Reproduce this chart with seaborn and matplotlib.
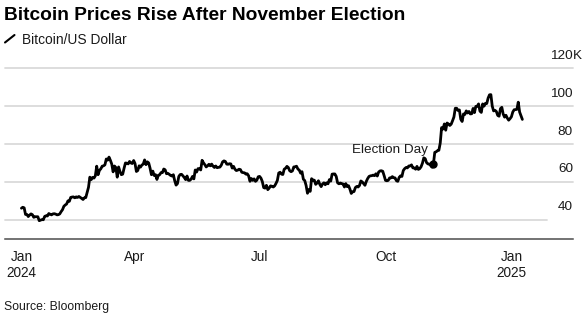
import matplotlib
matplotlib.use("Agg")
import matplotlib.pyplot as plt
import matplotlib.transforms as mtransforms
from matplotlib.lines import Line2D
import pandas as pd
import seaborn as sns

# Daily BTC/USD closes, thousands of US dollars, grouped by month
jan_2024 = [46.1, 46.6, 46.3, 42.8, 42.8, 41.7, 42.5, 43.1, 42.7, 41.3, 41.6, 41.6,
            41.6, 39.5, 39.8, 40.1, 40.0, 41.8, 42.1, 42.0, 43.3, 42.9, 42.6]
feb_2024 = [43.1, 43.2, 43.0, 42.6, 42.7, 43.1, 44.3, 45.3, 47.1, 47.8, 48.3, 50.0,
            49.7, 51.8, 52.0, 52.1, 51.6, 52.1, 51.8, 52.3, 51.8, 51.3, 50.7, 51.6,
            51.7, 54.5, 57.1, 62.5, 61.2]
mar_2024 = [62.4, 62.0, 63.2, 68.3, 63.8, 66.1, 66.9, 68.3, 68.5, 69.0, 72.1, 71.5,
            73.1, 71.4, 69.4, 65.3, 68.4, 67.6, 62.5, 67.9, 65.5, 63.8, 64.1, 67.2,
            70.0, 69.9, 69.5, 70.8, 70.0, 69.7, 71.3]
apr_2024 = [69.7, 65.5, 66.0, 68.5, 67.8, 68.9, 69.4, 71.6, 69.1, 70.6, 70.0, 67.2,
            63.8, 65.7, 63.4, 63.8, 61.3, 63.5, 63.8, 64.9, 64.9, 66.8, 66.4, 64.3,
            64.5, 64.0, 63.4, 63.1, 63.8, 60.6]
may_2024 = [58.3, 59.1, 62.9, 63.9, 64.0, 63.2, 62.3, 61.2, 63.1, 60.8, 60.8, 61.5,
            62.9, 61.6, 66.3, 65.2, 67.0, 67.0, 66.3, 71.4, 70.1, 69.1, 67.9, 68.5,
            69.3, 68.5, 69.4, 68.3, 67.6, 68.4, 67.5]
jun_2024 = [67.7, 67.8, 68.8, 70.6, 71.1, 70.8, 69.4, 69.3, 69.6, 69.5, 67.3, 68.2,
            66.7, 66.0, 66.2, 66.7, 66.5, 65.1, 64.9, 64.8, 64.1, 64.3, 63.2, 60.3,
            61.8, 60.8, 61.6, 60.3, 60.9, 62.7]
jul_2024 = [62.9, 62.0, 60.2, 57.0, 56.7, 58.2, 55.9, 56.7, 57.9, 57.7, 57.3, 57.9,
            59.2, 60.8, 64.7, 65.1, 64.1, 63.9, 66.7, 67.2, 68.2, 67.6, 65.9, 65.4,
            65.8, 67.9, 68.0, 68.3, 66.8, 66.2, 64.6]
aug_2024 = [65.4, 61.4, 60.7, 58.1, 54.0, 56.0, 55.0, 61.7, 60.9, 60.9, 58.7, 59.4,
            60.6, 58.7, 57.5, 58.9, 59.5, 58.5, 59.5, 59.0, 61.2, 60.4, 64.1, 64.2,
            64.2, 62.9, 59.5, 59.0, 59.4, 59.1, 58.9]
sep_2024 = [57.3, 59.1, 57.5, 58.0, 56.2, 53.9, 54.8, 54.9, 57.0, 57.6, 57.3, 58.1,
            60.5, 60.0, 59.1, 58.2, 60.3, 61.8, 62.9, 63.2, 63.3, 63.6, 63.3, 64.3,
            63.1, 65.2, 65.8, 65.9, 65.6, 63.3]
oct_2024 = [60.8, 60.6, 60.8, 62.1, 62.1, 62.8, 62.2, 62.1, 60.6, 60.3, 62.4, 63.2,
            62.9, 66.0, 67.0, 67.6, 67.4, 68.4, 68.4, 69.0, 67.4, 67.4, 66.7, 68.2,
            66.6, 67.0, 68.0, 69.9, 72.7, 72.3, 70.2]
nov_2024 = [69.5, 69.4, 68.7, 67.8, 69.4, 75.6, 75.9, 76.5, 76.7, 80.5, 88.7, 87.9,
            90.6, 87.3, 91.1, 90.6, 89.8, 90.5, 92.3, 94.3, 98.9, 98.9, 97.7, 98.0,
            93.1, 91.9, 95.9, 95.6, 97.5, 96.4]
dec_2024 = [97.2, 95.9, 96.0, 98.8, 96.6, 99.9, 99.9, 101.2, 97.4, 96.7, 101.2, 100.0,
            101.5, 101.4, 104.3, 106.0, 106.1, 100.0, 97.5, 97.8, 97.2, 95.1, 94.7, 98.7,
            99.4, 95.8, 94.2, 95.2, 93.7, 92.6, 93.4]
jan_2025 = [94.4, 96.9, 98.1, 98.2, 98.3, 102.1, 96.9, 95.0, 93.0]

first_date = "2024-01-09"
election_date = "2024-11-05"

y_ticks = [40, 60, 80, 100, 120]
y_tick_labels = ["40", "60", "80", "100", "120"]
y_unit = "K"
x_tick_dates = ["2024-01-09", "2024-04-01", "2024-07-01", "2024-10-01", "2025-01-01"]
x_tick_labels = ["Jan\n2024", "Apr", "Jul", "Oct", "Jan\n2025"]

title = "Bitcoin Prices Rise After November Election"
series_name = "Bitcoin/US Dollar"
source = "Source: Bloomberg"

prices = (jan_2024 + feb_2024 + mar_2024 + apr_2024 + may_2024 + jun_2024 + jul_2024
          + aug_2024 + sep_2024 + oct_2024 + nov_2024 + dec_2024 + jan_2025)
df = pd.DataFrame({
    "date": pd.date_range(first_date, periods=len(prices), freq="D"),
    "price": prices,
})

sns.set_style("white")
plt.rcParams["font.family"] = ["Liberation Sans", "DejaVu Sans"]

W, H = 588, 323
fig = plt.figure(figsize=(W / 100, H / 100), dpi=100)
ax_l, ax_r, ax_t, ax_b = 5, 573, 68.3, 238.7
ax = fig.add_axes([ax_l / W, 1 - ax_b / H, (ax_r - ax_l) / W, (ax_b - ax_t) / H])

sns.lineplot(data=df, x="date", y="price", ax=ax, color="black",
             linewidth=2.0, zorder=3)

ax.set_xlim(pd.Timestamp("2023-12-28"), pd.Timestamp("2025-02-15"))
ax.set_ylim(30, 120)

# horizontal guides
for v in y_ticks:
    ax.axhline(v, xmin=0, xmax=(0.954 if v == 40 else 1.0), color="#dadada",
               lw=1.3, zorder=1, clip_on=False)

# value labels sit just above their guide lines at the right edge;
# the unit suffix on the top label hangs past the column of numbers
label_tr = mtransforms.offset_copy(ax.get_yaxis_transform(), fig=fig,
                                   x=0, y=12.5, units="dots")
for v, lab in zip(y_ticks, y_tick_labels):
    ax.text(1.0, v, lab, transform=label_tr, ha="right", va="center",
            fontsize=9.7, color="#1a1a1a")
ax.text(1.0, y_ticks[-1], y_unit, transform=label_tr, ha="left", va="center",
        fontsize=9.7, color="#1a1a1a")
ax.set_yticks([])
ax.set_ylabel("")
ax.set_xlabel("")

for side in ["top", "left", "right"]:
    ax.spines[side].set_visible(False)
ax.spines["bottom"].set_color("#4d4d4d")
ax.spines["bottom"].set_linewidth(1.1)

ax.set_xticks(pd.to_datetime(x_tick_dates))
ax.set_xticklabels(x_tick_labels)
ax.tick_params(axis="x", direction="out", length=4, width=1, color="#4d4d4d",
               pad=4, labelsize=9.8, labelcolor="#1a1a1a")

# election day marker
e_date = pd.Timestamp(election_date)
e_price = df.loc[df["date"] == e_date, "price"].iloc[0]
ax.plot([e_date], [e_price], marker="o", ms=5, color="black", zorder=4)
ax.annotate("Election Day", xy=(e_date, e_price), xytext=(-4.3, 10),
            textcoords="offset points", ha="right", va="center",
            fontsize=9.7, color="#1a1a1a")

# headers and footer
fig.text(4 / W, 1 - 19.5 / H, title, fontsize=13.8, fontweight="bold",
         va="baseline", ha="left", color="black")
fig.lines.append(Line2D([5 / W, 14.5 / W], [1 - 42.5 / H, 1 - 35 / H],
                        transform=fig.transFigure, color="black", lw=1.5))
fig.text(22.5 / W, 1 - 44 / H, series_name, fontsize=9.9, va="baseline",
         ha="left", color="#1a1a1a")
fig.text(4 / W, 1 - 310 / H, source, fontsize=8.8, va="baseline",
         ha="left", color="#1a1a1a")

fig.savefig("out.png", dpi=100)
